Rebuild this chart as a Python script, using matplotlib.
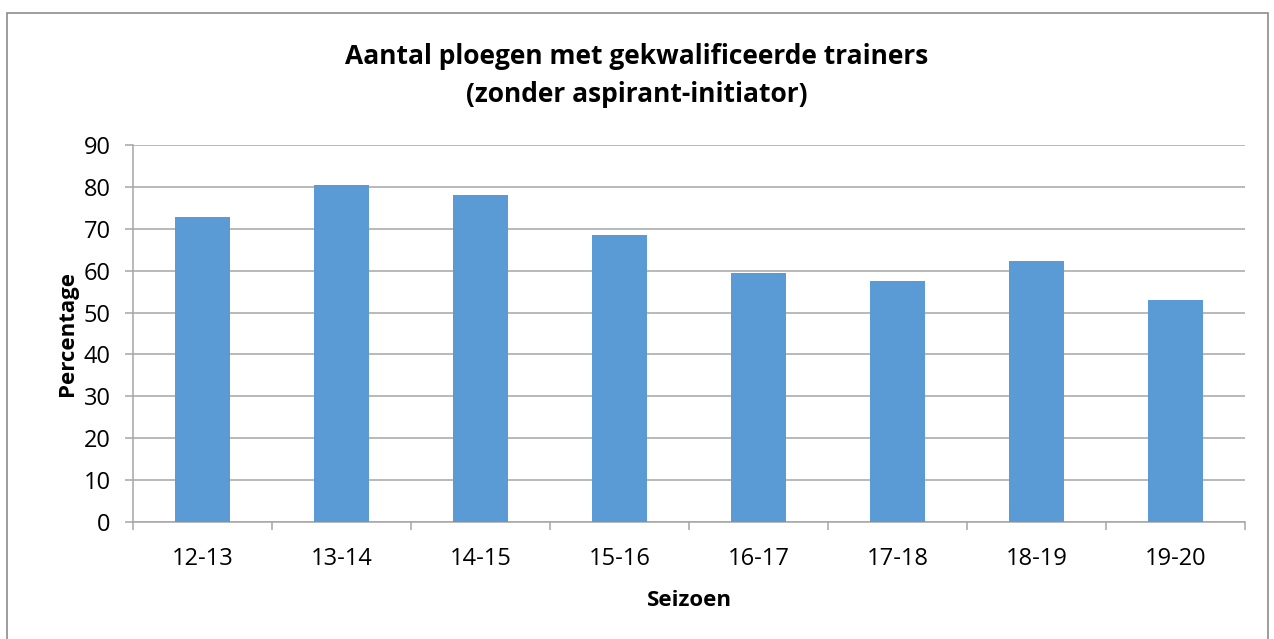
import matplotlib
matplotlib.use("Agg")
import matplotlib.pyplot as plt
from matplotlib.patches import Rectangle
import numpy as np

seasons = ["12-13", "13-14", "14-15", "15-16", "16-17", "17-18", "18-19", "19-20"]
percentages = [72.7, 80.5, 78.0, 68.5, 59.4, 57.6, 62.3, 52.9]
yticks = [0, 10, 20, 30, 40, 50, 60, 70, 80, 90]

plt.rcParams['font.family'] = ['Open Sans', 'DejaVu Sans']

W, H = 1274, 639
fig = plt.figure(figsize=(W / 100, H / 100), dpi=100)
fig.patch.set_facecolor("white")

# outer chart border
fig.add_artist(Rectangle((7 / W, -0.01), (1268 - 7) / W, 1 - 13 / H + 0.01,
                         transform=fig.transFigure, fill=False,
                         edgecolor="#8c8c8c", linewidth=1.2))

left, right, top, bottom = 133, 1245, 145, 522
ax = fig.add_axes([left / W, 1 - bottom / H, (right - left) / W, (bottom - top) / H])

x = np.arange(len(seasons))
ax.bar(x, percentages, width=0.4, color="#5B9BD5", zorder=3)
ax.set_xlim(-0.5, len(seasons) - 0.5)
ax.set_ylim(0, 90)
ax.set_yticks(yticks)
ax.yaxis.grid(True, color="#A6A6A6", linewidth=1.1, zorder=0)
ax.set_axisbelow(True)

for s in ["top", "right"]:
    ax.spines[s].set_visible(False)
for s in ["left", "bottom"]:
    ax.spines[s].set_color("#A6A6A6")
    ax.spines[s].set_linewidth(1.1)

ax.set_xticks(x)
ax.set_xticklabels(seasons, fontsize=17)
ax.tick_params(axis="x", length=0, pad=18)
ax.set_xticks(np.arange(-0.5, len(seasons)), minor=True)
ax.tick_params(axis="x", which="minor", length=6, color="#A6A6A6", width=1.1)
ax.tick_params(axis="y", length=6, color="#A6A6A6", width=1.1, labelsize=17, pad=10)

ax.set_xlabel("Seizoen", fontsize=16, fontweight="bold", labelpad=14)
ax.set_ylabel("Percentage", fontsize=16, fontweight="bold", labelpad=4)

fig.text(0.5, 1 - 57 / H, "Aantal ploegen met gekwalificeerde trainers",
         ha="center", va="center", fontsize=19, fontweight="bold")
fig.text(0.5, 1 - 95 / H, "(zonder aspirant-initiator)",
         ha="center", va="center", fontsize=19, fontweight="bold")

fig.savefig("out.png", dpi=100, facecolor="white")
